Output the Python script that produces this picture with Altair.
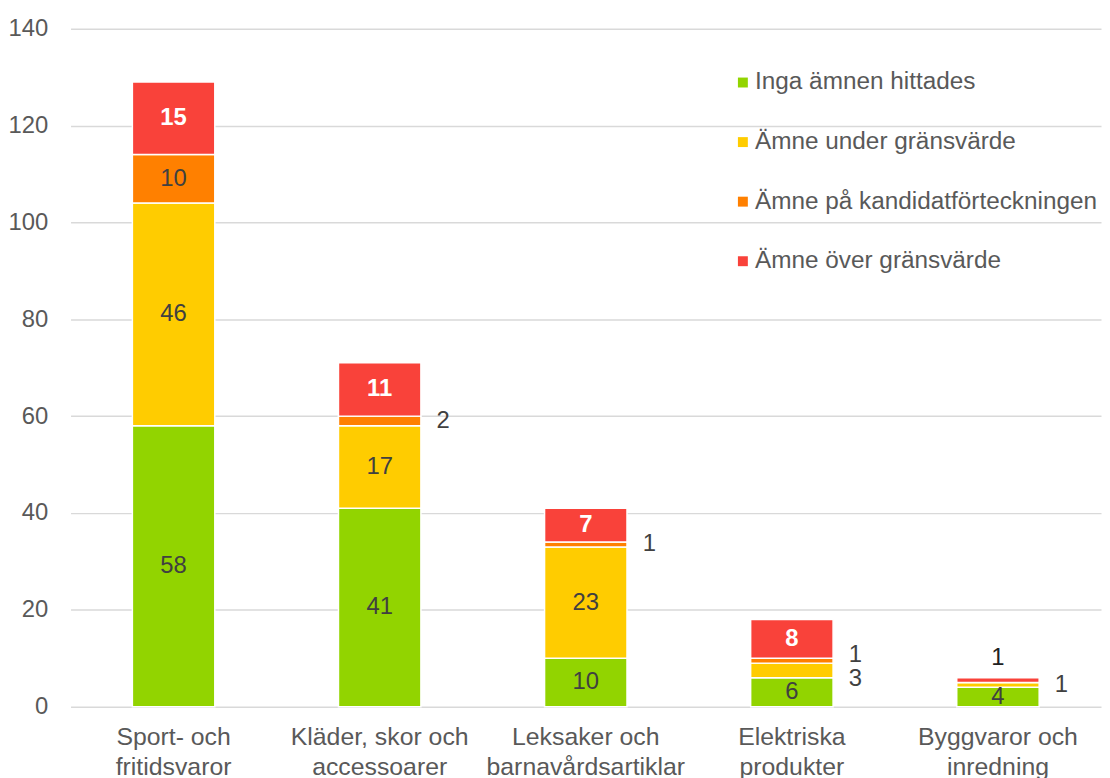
import altair as alt
import pandas as pd

categories = ["Sport- och\nfritidsvaror", "Kläder, skor och\naccessoarer",
              "Leksaker och\nbarnavårdsartiklar", "Elektriska\nprodukter",
              "Byggvaror och\ninredning"]
series = ["Inga ämnen hittades", "Ämne under gränsvärde",
          "Ämne på kandidatförteckningen", "Ämne över gränsvärde"]
colors = ["#92D400", "#FFCC00", "#FF8000", "#F9423A"]
green = [58, 41, 10, 6, 4]
yellow = [46, 17, 23, 3, 1]
orange = [10, 2, 1, 1, 0]
red = [15, 11, 7, 8, 1]

rows = []
for i, c in enumerate(categories):
    for j, (s, vals) in enumerate(zip(series, [green, yellow, orange, red])):
        rows.append({"cat": c, "series": s, "order": j, "value": vals[i]})
df = pd.DataFrame(rows)

FONT = "Liberation Sans"
GREY = "#595959"
LBL = 24

base = alt.Chart(df).transform_stack(
    stack="value", groupby=["cat"], as_=["y0", "y1"],
    sort=[alt.SortField("order", order="ascending")]
).transform_calculate(
    mid="(datum.y0 + datum.y1) / 2"
)

xenc = alt.X("cat:N", sort=categories, title=None,
             scale=alt.Scale(paddingInner=0.6, paddingOuter=0.3),
             axis=alt.Axis(labelExpr="split(datum.label, '\\n')", labelAngle=0,
                           labelFontSize=25, labelColor=GREY, labelFont=FONT,
                           labelLineHeight=30, labelPadding=18, ticks=False,
                           labelLimit=400, domain=False, grid=False))
yscale = alt.Scale(domain=[0, 140])

bars = base.mark_bar(stroke="white", strokeWidth=1.5).encode(
    x=xenc,
    y=alt.Y("y0:Q", scale=yscale, title=None,
            axis=alt.Axis(values=list(range(0, 141, 20)), labelFontSize=24,
                          labelColor=GREY, labelFont=FONT, labelPadding=23,
                          ticks=False, domain=False, gridColor="#D9D9D9",
                          gridWidth=1.5)),
    y2="y1:Q",
    color=alt.Color("series:N", sort=series,
                    scale=alt.Scale(domain=series, range=colors),
                    legend=alt.Legend(title=None, orient="none", legendX=665,
                                      legendY=42, symbolType="square",
                                      symbolSize=100, symbolStrokeWidth=0,
                                      labelFontSize=24.5, labelColor=GREY,
                                      labelFont=FONT, rowPadding=35,
                                      labelOffset=0, labelLimit=400)),
)

inside_norm = base.transform_filter("datum.value >= 4 && datum.order != 3").mark_text(
    fontSize=LBL, font=FONT, baseline="middle", color="#404040"
).encode(x=alt.X("cat:N", sort=categories), y=alt.Y("mid:Q", scale=yscale),
         text="value:Q")
inside_red = base.transform_filter("datum.value >= 4 && datum.order == 3").mark_text(
    fontSize=LBL, font=FONT, baseline="middle", color="white", fontWeight="bold"
).encode(x=alt.X("cat:N", sort=categories), y=alt.Y("mid:Q", scale=yscale),
         text="value:Q")

outside_right = base.transform_filter(
    "datum.value > 0 && datum.value < 4 && datum.order != 3"
).transform_calculate(
    ypos="datum.mid + (datum.cat == 'Elektriska\\nprodukter' ? (datum.order == 2 ? 1.2 : -1.7) : 0)"
).mark_text(fontSize=LBL, font=FONT, baseline="middle", color="#404040", dx=64).encode(
    x=alt.X("cat:N", sort=categories), y=alt.Y("ypos:Q", scale=yscale),
    text="value:Q")

outside_above = base.transform_filter(
    "datum.value < 4 && datum.order == 3"
).transform_calculate(ypos="datum.y1 + 4").mark_text(
    fontSize=LBL, font=FONT, baseline="middle", color="#202020"
).encode(x=alt.X("cat:N", sort=categories), y=alt.Y("ypos:Q", scale=yscale),
         text="value:Q")

chart = alt.layer(bars, inside_norm, inside_red, outside_right, outside_above).properties(
    width=1038, height=683,
    autosize=alt.AutoSizeParams(type="none"),
    padding={"left": 63, "top": 18, "right": 1, "bottom": 70},
).configure_view(stroke=None).configure_axis(labelFont=FONT)

chart.save("out.html", embed_options={"renderer": "svg", "actions": False})
